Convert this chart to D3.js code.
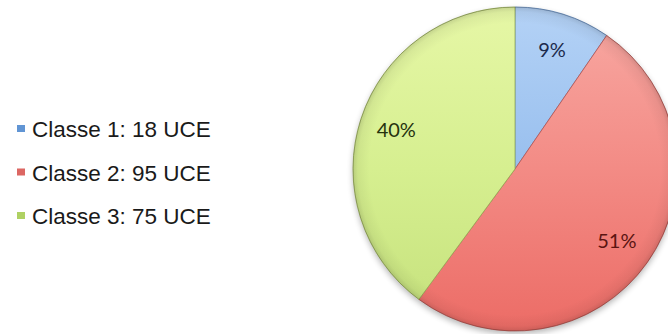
<!DOCTYPE html>
<html>
<head>
<meta charset="utf-8">
<script src="https://cdn.jsdelivr.net/npm/d3@7"></script>
<style>
  body { margin: 0; background: #fff; }
  svg { display: block; }
</style>
</head>
<body>
<svg id="chart" width="668" height="334"></svg>
<script>
// Distribution des UCE par classe
const classes = ["Classe 1", "Classe 2", "Classe 3"];
const uceCounts = [18, 95, 75];
const unit = "UCE";
const percentLabels = ["9%", "51%", "40%"];

// Slice fills: light top, middle, darker bottom
const sliceTop = ["#b4d2f6", "#f8a9a3", "#e6f7a6"];
const sliceMid = ["#98bfee", "#f38b85", "#d6ef90"];
const sliceBottom = ["#7eaee6", "#ec6c66", "#c5e17c"];
const sliceEdge = ["#5d84b8", "#b9524d", "#97ad55"];
const labelColors = ["#1c2a4c", "#5a1411", "#26330e"];
const legendColors = ["#6195d4", "#dc6763", "#afd163"];

const width = 668, height = 334;
const cx = 515, cy = 169, radius = 162, labelRadius = 125;

const svg = d3.select("#chart");
const defs = svg.append("defs");

// Gradients are expressed in the pie group's local coordinates (centre at 0,0)
classes.forEach((c, i) => {
  const g = defs.append("linearGradient")
    .attr("id", "fill" + i)
    .attr("gradientUnits", "userSpaceOnUse")
    .attr("x1", 0).attr("y1", -radius)
    .attr("x2", 0).attr("y2", radius);
  g.append("stop").attr("offset", "0%").attr("stop-color", sliceTop[i]);
  g.append("stop").attr("offset", "50%").attr("stop-color", sliceMid[i]);
  g.append("stop").attr("offset", "100%").attr("stop-color", sliceBottom[i]);
});

// Soft rim shading for the bevelled look
const rim = defs.append("radialGradient")
  .attr("id", "rim")
  .attr("gradientUnits", "userSpaceOnUse")
  .attr("cx", 0).attr("cy", 0).attr("r", radius);
rim.append("stop").attr("offset", "0%").attr("stop-color", "#000").attr("stop-opacity", 0);
rim.append("stop").attr("offset", "90%").attr("stop-color", "#000").attr("stop-opacity", 0);
rim.append("stop").attr("offset", "97%").attr("stop-color", "#000").attr("stop-opacity", 0.05);
rim.append("stop").attr("offset", "100%").attr("stop-color", "#000").attr("stop-opacity", 0.14);

const shadow = defs.append("filter").attr("id", "shadow")
  .attr("x", "-20%").attr("y", "-20%").attr("width", "140%").attr("height", "140%");
shadow.append("feGaussianBlur").attr("in", "SourceAlpha").attr("stdDeviation", 3).attr("result", "b");
shadow.append("feOffset").attr("in", "b").attr("dy", 3).attr("result", "o");
shadow.append("feComponentTransfer").attr("in", "o")
  .append("feFuncA").attr("type", "linear").attr("slope", 0.3);

const pie = d3.pie().sort(null).value(d => d)(uceCounts);
const arc = d3.arc().innerRadius(0).outerRadius(radius);
const labelArc = d3.arc().innerRadius(labelRadius).outerRadius(labelRadius);

const pieG = svg.append("g").attr("transform", `translate(${cx},${cy})`);

pieG.append("circle").attr("r", radius).attr("fill", "#000").attr("filter", "url(#shadow)");

pieG.selectAll("path.slice")
  .data(pie)
  .join("path")
  .attr("class", "slice")
  .attr("d", arc)
  .attr("fill", (d, i) => `url(#fill${i})`)
  .attr("stroke", (d, i) => sliceEdge[i])
  .attr("stroke-opacity", 0.8)
  .attr("stroke-width", 1)
  .attr("stroke-linejoin", "round");

pieG.append("circle")
  .attr("r", radius)
  .attr("fill", "url(#rim)")
  .attr("stroke", "rgba(0,0,0,0.10)")
  .attr("stroke-width", 1);

pieG.selectAll("text.pct")
  .data(pie)
  .join("text")
  .attr("class", "pct")
  .attr("transform", d => `translate(${labelArc.centroid(d)})`)
  .attr("text-anchor", "middle")
  .attr("dy", "0.35em")
  .attr("font-family", "Lato, 'Open Sans', sans-serif")
  .attr("font-size", 20)
  .attr("fill", (d, i) => labelColors[i])
  .text((d, i) => percentLabels[i]);

// Legend
const legendY = d3.scaleLinear().domain([0, classes.length - 1]).range([137, 224]);
const legend = svg.append("g");
const rows = legend.selectAll("g.row")
  .data(classes)
  .join("g")
  .attr("class", "row")
  .attr("transform", (d, i) => `translate(0,${legendY(i)})`);

rows.append("rect")
  .attr("x", 17).attr("y", -12)
  .attr("width", 8).attr("height", 7)
  .attr("fill", (d, i) => legendColors[i]);

rows.append("text")
  .attr("x", 32).attr("y", 0)
  .attr("font-family", "'Liberation Sans', Arial, sans-serif")
  .attr("font-size", 22.5)
  .attr("fill", "#1a1a1a")
  .text((d, i) => `${d}: ${uceCounts[i]} ${unit}`);
</script>
</body>
</html>
